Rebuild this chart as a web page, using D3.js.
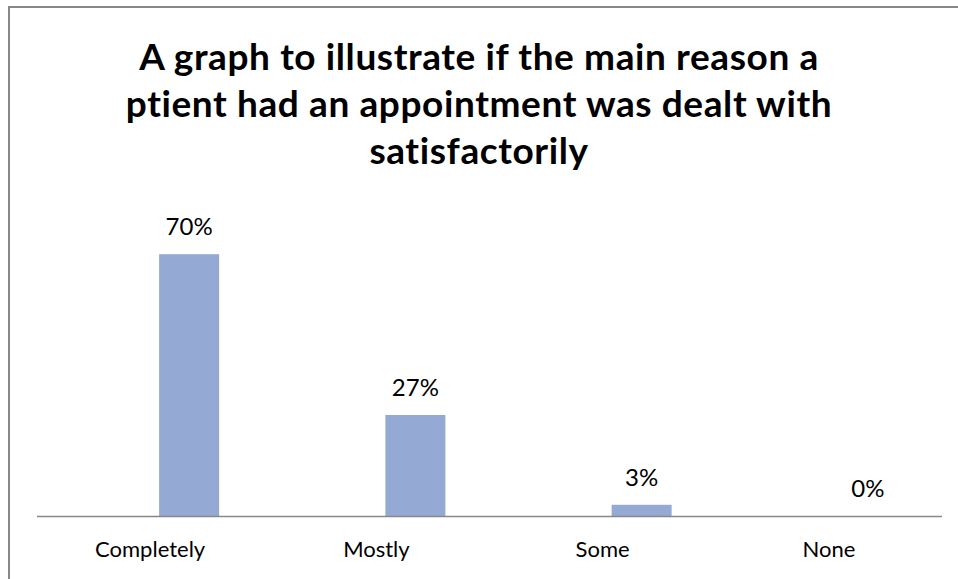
<!DOCTYPE html>
<html>
<head>
<meta charset="utf-8">
<script src="https://cdn.jsdelivr.net/npm/d3@7"></script>
<style>
  body { margin: 0; background: #fff; }
  svg text { font-family: Lato, "Open Sans", sans-serif; fill: #000; }
</style>
</head>
<body>
<div id="chart"></div>
<script>
// categories and values
var categories = ["Completely", "Mostly", "Some", "None"];
var percents = [70, 27, 3, 0];
var titleLines = [
  "A graph to illustrate if the main reason a",
  "ptient had an appointment was dealt with",
  "satisfactorily"
];

var width = 958, height = 579;
var svg = d3.select("#chart").append("svg")
  .attr("width", width)
  .attr("height", height);

// chart frame (right and bottom edges run off the picture)
svg.append("rect")
  .attr("x", 9).attr("y", 7)
  .attr("width", 960).attr("height", 600)
  .attr("fill", "#fff")
  .attr("stroke", "#888")
  .attr("stroke-width", 2);

// title
svg.append("g").selectAll("text")
  .data(titleLines)
  .enter().append("text")
    .attr("x", 479)
    .attr("y", function (d, i) { return 70 + i * 47; })
    .attr("text-anchor", "middle")
    .style("font-size", "37px")
    .style("font-weight", "bold")
    .style("letter-spacing", "0.6px")
    .text(function (d) { return d; });

var plotLeft = 37, plotRight = 942, baseY = 516, topY = 142;

var x = d3.scaleBand()
  .domain(categories)
  .range([plotLeft, plotRight]);

var y = d3.scaleLinear()
  .domain([0, 100])
  .range([baseY, topY]);

// the bar sits just right of the category centre (Excel cluster slot)
var barW = 60, barShift = 9;

var data = categories.map(function (c, i) { return { cat: c, val: percents[i] }; });

var barX = function (d) { return x(d.cat) + x.bandwidth() / 2 + barShift; };

svg.append("g").selectAll("rect")
  .data(data)
  .enter().append("rect")
    .attr("x", barX)
    .attr("y", function (d) { return y(d.val); })
    .attr("width", barW)
    .attr("height", function (d) { return baseY - y(d.val); })
    .attr("fill", "#94a9d3");

// value labels above bars
svg.append("g").selectAll("text")
  .data(data)
  .enter().append("text")
    .attr("x", function (d) { return barX(d) + barW / 2; })
    .attr("y", function (d) { return y(d.val) - 19; })
    .attr("text-anchor", "middle")
    .style("font-size", "24px")
    .text(function (d) { return d.val + "%"; });

// category axis
var xAxis = svg.append("g")
  .attr("transform", "translate(0," + baseY + ")")
  .call(d3.axisBottom(x).tickSize(0));
xAxis.select(".domain")
  .attr("stroke", "#888")
  .attr("stroke-width", 1.5)
  .attr("d", "M" + plotLeft + ",0.5H" + plotRight);
xAxis.selectAll("text")
  .attr("y", 41)
  .attr("dy", 0)
  .attr("fill", "#000")
  .style("font-size", "22px")
  .style("font-family", "Lato, 'Open Sans', sans-serif");
</script>
</body>
</html>
